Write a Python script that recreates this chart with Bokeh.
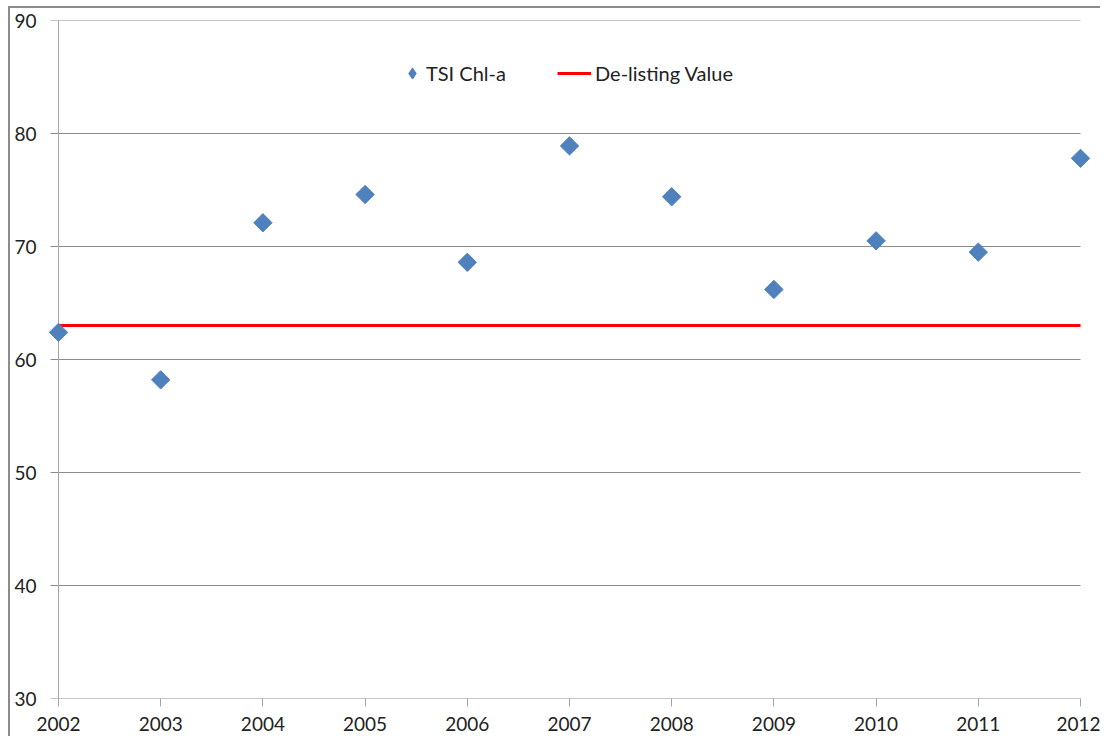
from bokeh.plotting import figure
from bokeh.models import FixedTicker, Range1d, Legend, LegendItem
from bokeh.embed import file_html
from bokeh.resources import INLINE
import numpy as np

years = [2002, 2003, 2004, 2005, 2006, 2007, 2008, 2009, 2010, 2011, 2012]
tsi_chla = [62.4, 58.2, 72.1, 74.6, 68.6, 78.9, 74.4, 66.2, 70.5, 69.5, 77.8]
delisting_value = 63.0
y_ticks = [30, 40, 50, 60, 70, 80, 90]

FONT = "Lato"
PX_PER_YEAR = 102.2
x0, x1 = years[0], years[-1]

p = figure(width=1092, height=730, output_backend="svg", toolbar_location=None,
           x_range=Range1d(x0 - 10 / PX_PER_YEAR, x1 + 12 / PX_PER_YEAR),
           y_range=Range1d(y_ticks[0], y_ticks[-1]),
           min_border_left=38, min_border_top=12, min_border_right=10, min_border_bottom=40,
           styles={"margin-left": "8px", "margin-top": "6px",
                   "border-left": "2px solid #8c8c8c", "border-top": "2px solid #8c8c8c"})

p.outline_line_color = None
p.background_fill_color = "white"
p.border_fill_color = "white"
p.xgrid.grid_line_color = None
p.ygrid.grid_line_color = None

# horizontal grid lines (incl. the 30 baseline), extending over the tick area
p.segment(x0=[x0 - 8 / PX_PER_YEAR] * len(y_ticks), y0=y_ticks, x1=[x1] * len(y_ticks), y1=y_ticks,
          line_color="#8c8c8c", line_width=1)
# vertical axis line at 2002
p.segment(x0=[x0], y0=[y_ticks[0]], x1=[x0], y1=[y_ticks[-1]], line_color="#a6a6a6", line_width=1)

p.yaxis.ticker = FixedTicker(ticks=y_ticks)
p.yaxis.axis_line_color = None
p.yaxis.major_tick_line_color = None
p.yaxis.major_tick_out = 0
p.yaxis.major_tick_in = 0
p.yaxis.minor_tick_line_color = None
p.yaxis.major_label_standoff = 12

p.xaxis.ticker = FixedTicker(ticks=years)
p.xaxis.bounds = (x0, x1)
p.xaxis.axis_line_color = None
p.xaxis.major_tick_line_color = "#a6a6a6"
p.xaxis.major_tick_out = 8
p.xaxis.major_tick_in = 0
p.xaxis.minor_tick_line_color = None
p.xaxis.major_label_standoff = 10

for ax in (p.xaxis, p.yaxis):
    ax.major_label_text_font = FONT
    ax.major_label_text_font_size = "19px"
    ax.major_label_text_color = "#222222"

line_r = p.line(x=years, y=[delisting_value] * len(years), line_color="#ff0000", line_width=3)
pts = p.scatter(x=years, y=tsi_chla, marker="square", angle=np.pi / 4, size=13,
                fill_color="#4f81bd", line_color="#4f81bd")
legend_marker = p.scatter(x=[-100], y=[-100], marker="diamond", size=15,
                          fill_color="#4f81bd", line_color="#4f81bd")


def make_legend(label, renderer, glyph_width, glyph_height, standoff, loc):
    lg = Legend(items=[LegendItem(label=label, renderers=[renderer])], location=loc)
    lg.border_line_color = None
    lg.background_fill_alpha = 0
    lg.label_text_font = FONT
    lg.label_text_font_size = "20px"
    lg.label_text_color = "#222222"
    lg.glyph_width = glyph_width
    lg.glyph_height = glyph_height
    lg.label_standoff = standoff
    lg.padding = 0
    lg.margin = 0
    return lg


p.add_layout(make_legend("TSI Chl-a", legend_marker, 28, 30, 0, (350, 610)), "center")
p.add_layout(make_legend("De-listing Value", line_r, 34, 30, 4, (509, 610)), "center")

open("out.html", "w").write(file_html(p, INLINE))
